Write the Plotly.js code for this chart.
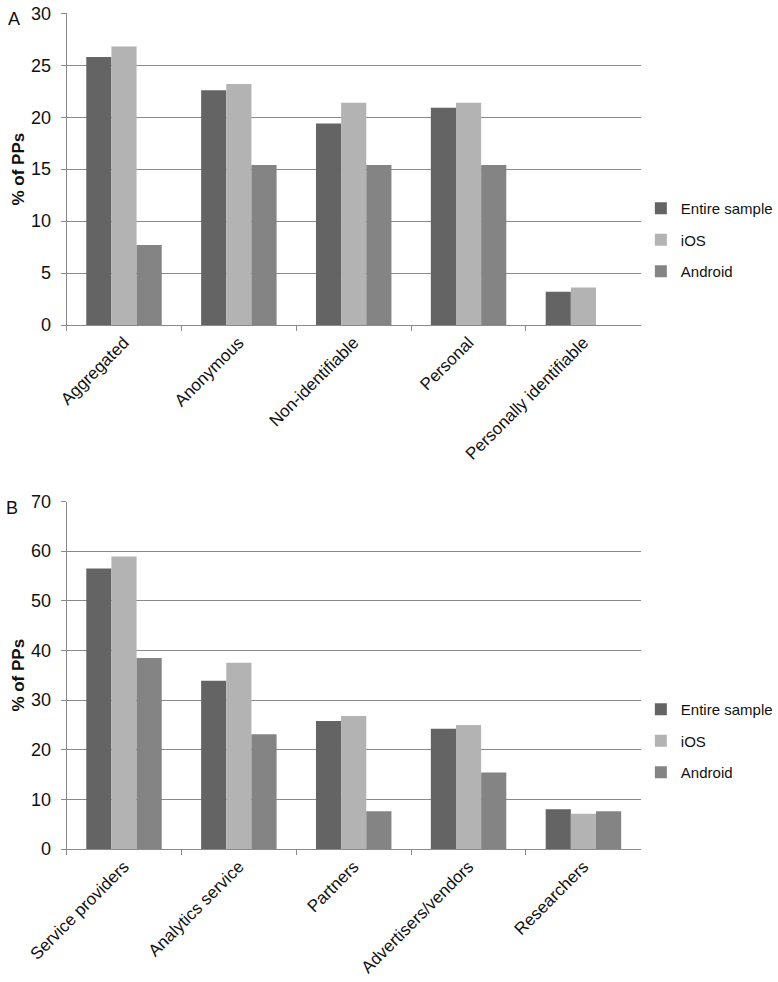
<!DOCTYPE html>
<html>
<head>
<meta charset="utf-8">
<script src="https://cdn.plot.ly/plotly-3.0.1.min.js"></script>
<style>html,body{margin:0;padding:0;background:#fff;}#chart{width:778px;height:982px;}</style>
</head>
<body>
<div id="chart"></div>
<script>
// Panel A
const catsA = ["Aggregated", "Anonymous", "Non-identifiable", "Personal", "Personally identifiable"];
const entireA = [25.8, 22.6, 19.4, 20.9, 3.2];
const iosA = [26.8, 23.2, 21.4, 21.4, 3.6];
const androidA = [7.7, 15.4, 15.4, 15.4, 0];
// Panel B
const catsB = ["Service providers", "Analytics service", "Partners", "Advertisers/vendors", "Researchers"];
const entireB = [56.5, 33.9, 25.8, 24.2, 8.0];
const iosB = [58.9, 37.5, 26.8, 25.0, 7.1];
const androidB = [38.5, 23.1, 7.6, 15.4, 7.6];
const seriesNames = ["Entire sample", "iOS", "Android"];
const colors = ["#646464", "#b3b3b3", "#848484"];

const FONT = "Liberation Sans, Arial, sans-serif";
const W = 778, H = 982;
const px = v => v / W;
const py = v => (H - v) / H;

function mk(cats, vals, i, xa, ya, leg) {
  return {
    type: "bar", x: cats, y: vals, name: seriesNames[i],
    marker: {color: colors[i], line: {width: 0}},
    xaxis: xa, yaxis: ya, legend: leg, legendgroup: leg + i,
    hoverinfo: "y"
  };
}
const data = [
  mk(catsA, entireA, 0, "x", "y", "legend"),
  mk(catsA, iosA, 1, "x", "y", "legend"),
  mk(catsA, androidA, 2, "x", "y", "legend"),
  mk(catsB, entireB, 0, "x2", "y2", "legend2"),
  mk(catsB, iosB, 1, "x2", "y2", "legend2"),
  mk(catsB, androidB, 2, "x2", "y2", "legend2")
];

const axisLine = "#8a8a8a";
function xax(anchor, dom) {
  return {
    domain: dom, anchor: anchor, type: "category",
    showline: true, linecolor: axisLine, linewidth: 1,
    ticks: "outside", tickson: "boundaries", ticklen: 5, tickcolor: axisLine,
    tickangle: -45, tickfont: {family: FONT, size: 17, color: "#111"},
    showgrid: false, automargin: false, fixedrange: true
  };
}
function yax(anchor, dom, range, dtick) {
  return {
    domain: dom, anchor: anchor, range: range, dtick: dtick,
    showline: true, linecolor: axisLine, linewidth: 1,
    ticks: "outside", ticklen: 5, tickcolor: axisLine,
    ticklabelstandoff: 6,
    showgrid: true, gridcolor: axisLine, gridwidth: 1,
    zeroline: false,
    tickfont: {family: FONT, size: 18, color: "#111"},
    title: {text: "<b>% of PPs</b>", font: {family: FONT, size: 17, color: "#111"}, standoff: 1},
    automargin: false, fixedrange: true
  };
}
const xdom = [px(67), px(645)];
const layout = {
  width: W, height: H,
  margin: {l: 0, r: 0, t: 0, b: 0},
  paper_bgcolor: "#fff", plot_bgcolor: "#fff",
  font: {family: FONT, size: 16, color: "#111"},
  barmode: "group", bargap: 0.343, bargroupgap: 0,
  xaxis: xax("y", xdom),
  yaxis: yax("x", [py(325), py(13.3)], [0, 30], 5),
  xaxis2: xax("y2", xdom),
  yaxis2: yax("x2", [py(849), py(501.5)], [0, 70], 10),
  legend: {x: px(645), y: py(240), xanchor: "left", yanchor: "middle",
           font: {family: FONT, size: 15, color: "#111"}, tracegroupgap: 9,
           traceorder: "grouped", bgcolor: "rgba(0,0,0,0)", itemwidth: 30},
  legend2: {x: px(645), y: py(741), xanchor: "left", yanchor: "middle",
           font: {family: FONT, size: 15, color: "#111"}, tracegroupgap: 9,
           traceorder: "grouped", bgcolor: "rgba(0,0,0,0)", itemwidth: 30},
  showlegend: true,
  annotations: [
    {text: "A", xref: "paper", yref: "paper", x: px(6), y: py(19), xanchor: "left", yanchor: "middle",
     showarrow: false, font: {family: FONT, size: 18, color: "#111"}},
    {text: "B", xref: "paper", yref: "paper", x: px(4), y: py(508), xanchor: "left", yanchor: "middle",
     showarrow: false, font: {family: FONT, size: 18, color: "#111"}}
  ]
};
Plotly.newPlot("chart", data, layout, {displayModeBar: false, staticPlot: true});
</script>
</body>
</html>
